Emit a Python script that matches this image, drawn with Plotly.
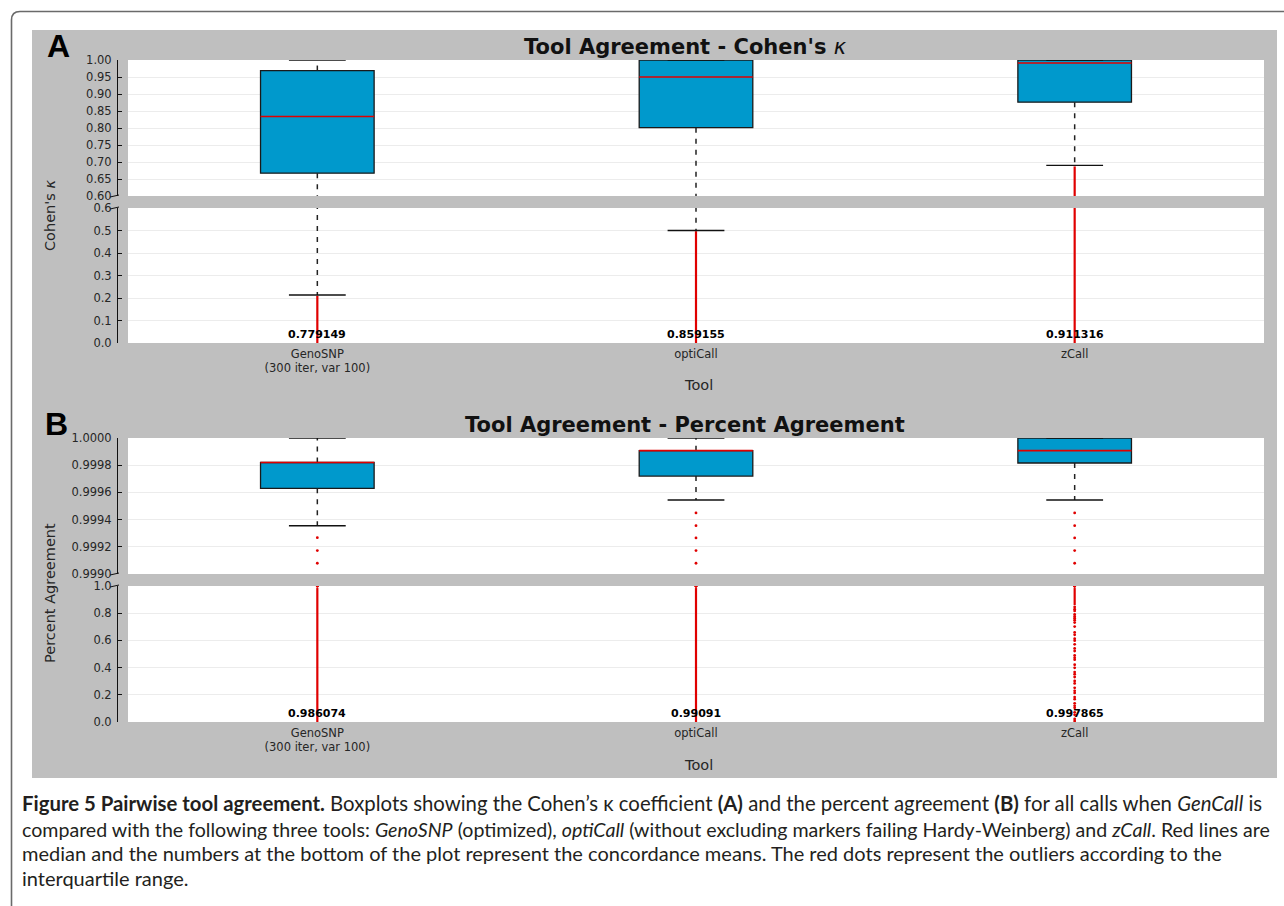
import plotly.graph_objects as go

# ---------------------------------------------------------------------------
# Figure geometry (pixels) – converted to paper coordinates below
# ---------------------------------------------------------------------------
W, H = 1284, 906


def px(x):
    return x / W


def py(y):
    return 1 - y / H


# ---------------------------------------------------------------------------
# Data
# ---------------------------------------------------------------------------
tools = ["GenoSNP<br>(300 iter, var 100)", "optiCall", "zCall"]
positions = [1, 2, 3]

# Cohen's kappa box statistics
kappa_q1 = [0.667, 0.801, 0.876]
kappa_median = [0.834, 0.950, 0.991]
kappa_q3 = [0.969, 1.000, 1.000]
kappa_whisker_low = [0.213, 0.500, 0.690]
kappa_whisker_high = [1.000, 1.000, 1.000]
kappa_mean = [0.779149, 0.859155, 0.911316]
# outliers are so dense that they merge into a continuous red run
kappa_outlier_low = [0.0, 0.0, 0.0]
kappa_outlier_high = [0.210, 0.497, 0.687]
kappa_outlier_points = [[], [], []]

# Percent agreement box statistics
pa_q1 = [0.99963, 0.99972, 0.999816]
pa_median = [0.99982, 0.999907, 0.999907]
pa_q3 = [0.99982, 0.999907, 1.0]
pa_whisker_low = [0.999355, 0.999544, 0.999544]
pa_whisker_high = [1.0, 1.0, 1.0]
pa_mean = [0.986074, 0.99091, 0.997865]
pa_outlier_low = [0.0, 0.0, 0.86]
pa_outlier_high = [0.985, 0.985, 0.985]
pa_outlier_points = [
    [0.999267, 0.999172, 0.999079],
    [0.999449, 0.999355, 0.999265, 0.999172, 0.999079],
    [0.999449, 0.999355, 0.999265, 0.999172, 0.999079,
     0.846, 0.829, 0.817, 0.791, 0.776, 0.763, 0.748, 0.731,
     0.702, 0.659, 0.641, 0.612, 0.598, 0.571, 0.541,
     0.522, 0.489, 0.472, 0.458, 0.421, 0.398, 0.367,
     0.352, 0.331, 0.302, 0.284, 0.251, 0.229, 0.214,
     0.183, 0.168, 0.137, 0.119, 0.104, 0.071, 0.053,
     0.022, 0.008],
]

# ---------------------------------------------------------------------------
# Styles
# ---------------------------------------------------------------------------
BOX_FILL = "#0099cc"
BOX_EDGE = "#1a1a1a"
RED = "#e00000"
GRID = "#ececec"
PANEL_GRAY = "#bfbfbf"
TEXT = "#262626"
TICK_FONT = dict(family="DejaVu Sans", size=11.5, color=TEXT)
BOX_WIDTH = 0.30
CAP_WIDTH = 0.15

# subplot rows (pixels)
X_LEFT, X_RIGHT = 128, 1264
SPINE_X = 117
rows = {
    "A_top": (60, 196),
    "A_bot": (208, 343),
    "B_top": (438, 574),
    "B_bot": (586, 722),
}

fig = go.Figure()


def add_boxes(xa, ya, q1, med, q3, lo, hi, out_lo, out_hi, out_pts,
              draw_box=True):
    if draw_box:
        fig.add_trace(go.Bar(
            x=positions, y=[b - a for a, b in zip(q1, q3)], base=q1,
            width=BOX_WIDTH, xaxis=xa, yaxis=ya,
            marker=dict(color=BOX_FILL, line=dict(color=BOX_EDGE, width=1.3)),
            showlegend=False, hoverinfo="skip"))
        # dashed whiskers
        wx, wy = [], []
        for p, a, b, l, h in zip(positions, q1, q3, lo, hi):
            wx += [p, p, None, p, p, None]
            wy += [b, h, None, a, l, None]
        fig.add_trace(go.Scatter(
            x=wx, y=wy, mode="lines", xaxis=xa, yaxis=ya,
            line=dict(color="#222222", width=1.5, dash="5px,6px"),
            showlegend=False, hoverinfo="skip"))
    # dense outlier runs
    ox, oy = [], []
    for p, a, b in zip(positions, out_lo, out_hi):
        ox += [p, p, None]
        oy += [a, b, None]
    fig.add_trace(go.Scatter(
        x=ox, y=oy, mode="lines", xaxis=xa, yaxis=ya,
        line=dict(color=RED, width=2.2),
        showlegend=False, hoverinfo="skip"))
    # individual outliers
    dx, dy = [], []
    for p, pts in zip(positions, out_pts):
        dx += [p] * len(pts)
        dy += pts
    fig.add_trace(go.Scatter(
        x=dx, y=dy, mode="markers", xaxis=xa, yaxis=ya,
        marker=dict(color=RED, size=2.8, line=dict(width=0)),
        showlegend=False, hoverinfo="skip"))
    if draw_box:
        # whisker caps
        cx, cy = [], []
        for p, l, h in zip(positions, lo, hi):
            cx += [p - CAP_WIDTH / 2, p + CAP_WIDTH / 2, None,
                   p - CAP_WIDTH / 2, p + CAP_WIDTH / 2, None]
            cy += [h, h, None, l, l, None]
        fig.add_trace(go.Scatter(
            x=cx, y=cy, mode="lines", xaxis=xa, yaxis=ya,
            line=dict(color="#111111", width=1.4),
            showlegend=False, hoverinfo="skip"))
        # medians
        mx, my = [], []
        for p, m in zip(positions, med):
            mx += [p - BOX_WIDTH / 2, p + BOX_WIDTH / 2, None]
            my += [m, m, None]
        fig.add_trace(go.Scatter(
            x=mx, y=my, mode="lines", xaxis=xa, yaxis=ya,
            line=dict(color=RED, width=1.6),
            showlegend=False, hoverinfo="skip"))


kappa_args = (kappa_q1, kappa_median, kappa_q3, kappa_whisker_low,
              kappa_whisker_high, kappa_outlier_low, kappa_outlier_high,
              kappa_outlier_points)
pa_args = (pa_q1, pa_median, pa_q3, pa_whisker_low, pa_whisker_high,
           pa_outlier_low, pa_outlier_high, pa_outlier_points)

add_boxes("x", "y", *kappa_args)
add_boxes("x2", "y2", *kappa_args)
add_boxes("x3", "y3", *pa_args)
add_boxes("x4", "y4", *pa_args, draw_box=False)

# ---------------------------------------------------------------------------
# Axes
# ---------------------------------------------------------------------------
x_domain = [px(X_LEFT), px(X_RIGHT)]


def xaxis(anchor, labels):
    return dict(domain=x_domain, anchor=anchor, range=[0.5, 3.5],
                showgrid=False, zeroline=False, showline=False, ticks="",
                tickvals=positions, ticktext=tools, showticklabels=labels,
                tickfont=TICK_FONT, automargin=False, fixedrange=True,
                ticklabelstandoff=2)


def yaxis(row, rng, vals, fmt):
    top, bot = rows[row]
    return dict(domain=[py(bot), py(top)], range=rng, anchor="free",
                position=px(SPINE_X), showline=True, linecolor="#111111",
                linewidth=1, ticks="inside", ticklen=4, tickwidth=1,
                tickcolor="#111111", tickvals=vals,
                ticktext=[format(v, fmt) for v in vals],
                tickfont=TICK_FONT, showgrid=True, gridcolor=GRID,
                gridwidth=1, zeroline=False, automargin=False,
                ticklabelstandoff=3, fixedrange=True)


kappa_top_ticks = [0.60, 0.65, 0.70, 0.75, 0.80, 0.85, 0.90, 0.95, 1.00]
kappa_bot_ticks = [0.0, 0.1, 0.2, 0.3, 0.4, 0.5, 0.6]
pa_top_ticks = [0.9990, 0.9992, 0.9994, 0.9996, 0.9998, 1.0000]
pa_bot_ticks = [0.0, 0.2, 0.4, 0.6, 0.8, 1.0]

fig.update_layout(
    xaxis=xaxis("y", False),
    xaxis2=xaxis("y2", True),
    xaxis3=xaxis("y3", False),
    xaxis4=xaxis("y4", True),
    yaxis=yaxis("A_top", [0.60, 1.00], kappa_top_ticks, ".2f"),
    yaxis2=yaxis("A_bot", [0.0, 0.6], kappa_bot_ticks, ".1f"),
    yaxis3=yaxis("B_top", [0.9990, 1.0000], pa_top_ticks, ".4f"),
    yaxis4=yaxis("B_bot", [0.0, 1.0], pa_bot_ticks, ".1f"),
)

# ---------------------------------------------------------------------------
# Background panel, white plotting areas, outer frame, axis-break marks
# ---------------------------------------------------------------------------
shapes = [
    dict(type="rect", xref="paper", yref="paper", layer="below",
         x0=px(32), x1=px(1277), y0=py(778), y1=py(30),
         fillcolor=PANEL_GRAY, line=dict(width=0)),
]
for xa, ya in [("x", "y"), ("x2", "y2"), ("x3", "y3"), ("x4", "y4")]:
    shapes.append(dict(type="rect", xref=f"{xa} domain", yref=f"{ya} domain",
                       layer="below", x0=0, x1=1, y0=0, y1=1,
                       fillcolor="white", line=dict(width=0)))

frame = (f"M {px(11.5)},{py(906)} L {px(11.5)},{py(20)} "
         f"Q {px(11.5)},{py(11.5)} {px(20)},{py(11.5)} L {px(1284)},{py(11.5)}")
shapes.append(dict(type="path", xref="paper", yref="paper", path=frame,
                   line=dict(color="#6a6a6a", width=1.6)))

for yb in [196, 208, 574, 586]:
    shapes.append(dict(type="line", xref="paper", yref="paper",
                       x0=px(110), x1=px(119), y0=py(yb + 1), y1=py(yb - 1),
                       line=dict(color="#111111", width=1)))

fig.update_layout(shapes=shapes)

# ---------------------------------------------------------------------------
# Text
# ---------------------------------------------------------------------------
ann = []


def label(text, x, y, font, **kw):
    d = dict(text=text, x=px(x), y=py(y), xref="paper", yref="paper",
             xanchor="center", yanchor="middle", showarrow=False, font=font)
    d.update(kw)
    ann.append(d)


TITLE_FONT = dict(family="DejaVu Sans", size=21, color="#111111")
label("<b>Tool Agreement - Cohen's </b><i>κ</i>", 685, 47, TITLE_FONT)
label("<b>Tool Agreement - Percent Agreement</b>", 685, 425, TITLE_FONT)

PANEL_FONT = dict(family="Liberation Sans", size=32, color="#000000")
label("<b>A</b>", 58, 46, PANEL_FONT)
label("<b>B</b>", 56, 424, PANEL_FONT)

LABEL_FONT = dict(family="DejaVu Sans", size=14.5, color=TEXT)
label("Cohen's <i>κ</i>", 50, 216, LABEL_FONT, textangle=-90)
label("Percent Agreement", 50, 593, LABEL_FONT, textangle=-90)
label("Tool", 698, 385, LABEL_FONT)
label("Tool", 698, 765, LABEL_FONT)

MEAN_FONT = dict(family="DejaVu Sans", size=11, color="#000000")
for xa, ya, means in [("x2", "y2", kappa_mean), ("x4", "y4", pa_mean)]:
    for p, m in zip(positions, means):
        ann.append(dict(text=f"<b>{m:g}</b>", x=p, y=0, xref=xa, yref=ya,
                        xanchor="center", yanchor="bottom", showarrow=False,
                        font=MEAN_FONT))

caption_lines = [
    "<b>Figure 5 Pairwise tool agreement.</b> Boxplots showing the Cohen’s κ "
    "coefficient <b>(A)</b> and the percent agreement <b>(B)</b> for all calls "
    "when <i>GenCall</i> is",
    "compared with the following three tools: <i>GenoSNP</i> (optimized), "
    "<i>optiCall</i> (without excluding markers failing Hardy-Weinberg) and "
    "<i>zCall</i>. Red lines are",
    "median and the numbers at the bottom of the plot represent the "
    "concordance means. The red dots represent the outliers according to the",
    "interquartile range.",
]
caption_y = [803, 829, 853, 878]
caption_size = [20.35, 19.6, 20, 20]
for line, yy, sz in zip(caption_lines, caption_y, caption_size):
    ann.append(dict(text=line, x=px(20), y=py(yy), xref="paper",
                    yref="paper", xanchor="left", yanchor="middle",
                    showarrow=False,
                    font=dict(family="Lato", size=sz, color="#231f20")))

fig.update_layout(
    annotations=ann,
    width=W, height=H,
    margin=dict(l=0, r=0, t=0, b=0),
    paper_bgcolor="white",
    plot_bgcolor="white",
    barmode="overlay",
    showlegend=False,
    template="none",
)

fig.write_html("out.html", config={"displayModeBar": False})
